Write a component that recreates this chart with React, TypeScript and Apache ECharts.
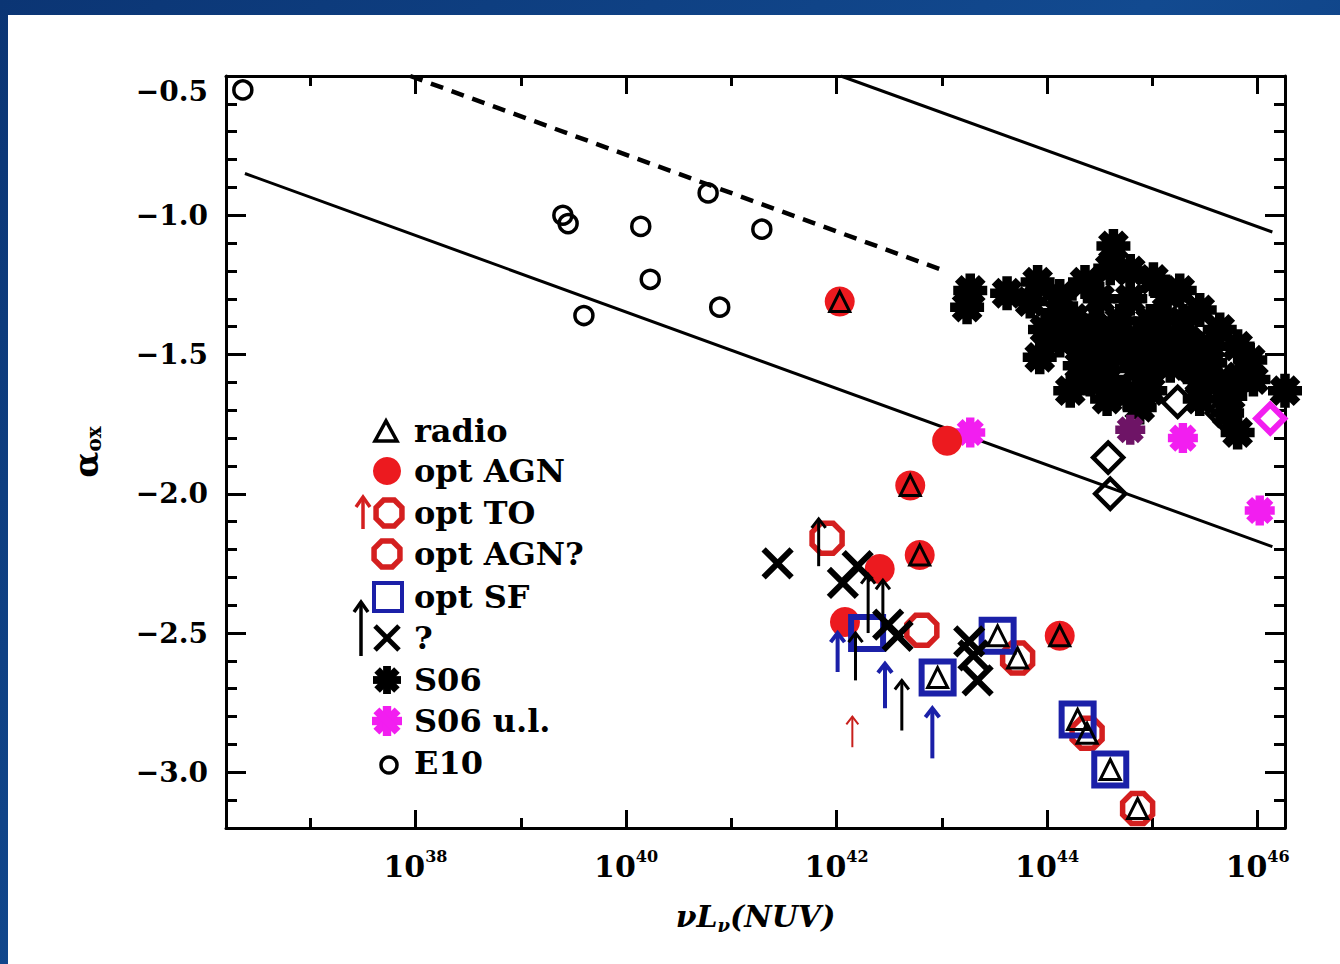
import React, { useEffect, useRef } from 'react';
import * as echarts from 'echarts';

// ---------- axes ----------
const xMin = 36.2;
const xMax = 46.26;
const yMin = -3.2;
const yMax = -0.5;
const xMajorTicks = [38, 40, 42, 44, 46];
const xMinorTicks = [37, 39, 41, 43, 45];
const yMajorTicks = [-3.0, -2.5, -2.0, -1.5, -1.0, -0.5];
const yMinorTicks = [-3.1, -2.9, -2.8, -2.7, -2.6, -2.4, -2.3, -2.2, -2.1, -1.9, -1.8, -1.7, -1.6,
  -1.4, -1.3, -1.2, -1.1, -0.9, -0.8, -0.7, -0.6];

// ---------- data (x = log10 nuL_nu(NUV), y = alpha_ox) ----------
const e10Points = [
  [36.36, -0.55], [39.40, -1.00], [39.45, -1.03], [40.14, -1.04], [40.78, -0.92],
  [41.29, -1.05], [40.23, -1.23], [39.60, -1.36], [40.89, -1.33],
];
const s06Points = [
  [43.27, -1.27], [43.24, -1.33], [43.62, -1.28], [43.91, -1.24], [43.84, -1.31],
  [44.12, -1.35], [44.63, -1.11], [44.60, -1.19], [43.93, -1.51], [45.01, -1.23],
  [45.14, -1.28], [44.29, -1.45], [44.44, -1.40], [44.69, -1.38], [44.86, -1.44],
  [44.57, -1.52], [44.76, -1.49], [45.01, -1.47], [45.29, -1.38], [45.33, -1.45],
  [45.64, -1.41], [45.81, -1.47], [45.93, -1.52], [45.83, -1.58], [45.55, -1.53],
  [45.17, -1.54], [44.95, -1.56], [44.57, -1.59], [44.57, -1.66], [44.76, -1.64],
  [44.31, -1.54], [44.88, -1.69], [45.74, -1.65], [45.81, -1.78], [45.71, -1.71],
  [45.96, -1.59], [46.26, -1.63], [44.41, -1.48], [44.50, -1.30], [44.12, -1.29],
  [45.26, -1.52], [45.45, -1.59], [45.55, -1.47], [44.98, -1.38], [44.36, -1.24],
  [43.98, -1.41], [44.12, -1.45], [44.41, -1.59], [44.79, -1.30], [45.07, -1.38],
  [44.98, -1.63], [45.45, -1.66], [44.22, -1.63], [45.45, -1.34], [44.79, -1.20],
  [45.26, -1.27], [44.66, -1.45], [45.12, -1.46], [45.38, -1.55], [44.85, -1.55],
  [44.25, -1.37], [45.62, -1.60],
];
const s06UpperLimits = [[43.27, -1.78], [45.29, -1.80], [46.02, -2.06]];
const s06UpperLimitsDark = [[44.79, -1.77]];
const diamondsBlack = [[44.58, -1.87], [44.60, -2.00], [45.24, -1.67], [45.66, -1.71]];
const diamondsMagenta = [[46.12, -1.73]];
const optAgn = [
  [42.03, -1.31], [42.70, -1.97], [42.79, -2.22], [44.12, -2.51], [43.05, -1.81],
  [42.08, -2.46], [42.41, -2.27],
];
const optAgnQ = [[42.81, -2.49], [43.72, -2.59], [44.38, -2.86], [44.86, -3.13]];
const optTo = [[41.91, -2.16]];
const optSf = [[42.29, -2.50], [42.96, -2.66], [43.53, -2.51], [44.29, -2.81], [44.60, -2.99]];
const radio = [
  [42.03, -1.31], [42.70, -1.97], [42.79, -2.22], [44.12, -2.51], [42.96, -2.66],
  [43.53, -2.51], [43.72, -2.59], [44.29, -2.81], [44.38, -2.86], [44.60, -2.99], [44.86, -3.13],
];
const unknown = [
  [41.44, -2.25], [42.06, -2.32], [42.20, -2.26], [42.49, -2.47], [42.58, -2.51],
  [43.26, -2.53], [43.30, -2.58], [43.34, -2.67],
];
// arrows: [x, alpha_ox at tail, alpha_ox at tip]
const arrowsBlue = [[42.01, -2.64, -2.50], [42.46, -2.77, -2.61], [42.91, -2.95, -2.77]];
const arrowsBlack = [
  [42.18, -2.67, -2.50], [42.30, -2.50, -2.29], [42.44, -2.50, -2.31], [41.83, -2.26, -2.09],
  [42.62, -2.85, -2.67],
];
const arrowsRed = [[42.15, -2.91, -2.80]];
// relations
const relationLow = [[36.38, -0.85], [46.14, -2.19]];
const relationHigh = [[42.04, -0.5], [46.14, -1.06]];
const relationDashed = [[37.95, -0.5], [43.03, -1.20]];

const legendLabels = ['radio', 'opt AGN', 'opt TO', 'opt AGN?', 'opt SF', '?', 'S06', 'S06 u.l.', 'E10'];

// ---------- styles ----------
const FONT = '"DejaVu Serif", serif';
const RED = '#ec1a1f';
const DRED = '#d41f1f';
const BLUE = '#1b20a8';
const MAG = '#f21ef0';

const ASTERISK =
  'path://M0 36L100 36L100 64L0 64Z M36 0L64 0L64 100L36 100Z M4.74 24.54L24.54 4.74L95.26 75.46L75.46 95.26Z M24.54 95.26L4.74 75.46L75.46 4.74L95.26 24.54Z';
const OCTAGON = 'path://M29.3 0L70.7 0L100 29.3L100 70.7L70.7 100L29.3 100L0 70.7L0 29.3Z';
const XMARK = 'path://M0 0L100 100M100 0L0 100';

const hollow = (color: string, w: number) => ({ color: 'rgba(0,0,0,0)', borderColor: color, borderWidth: w });

function scatter(name: string, data: number[][], symbol: string, size: number, itemStyle: any, z = 3) {
  return {
    name, type: 'scatter', data, symbol, symbolSize: size, itemStyle: { opacity: 1, ...itemStyle }, z,
    silent: true, clip: false, xAxisIndex: 0, yAxisIndex: 0,
  };
}

function arrowSeries(data: number[][], color: string, width: number, head: number) {
  return {
    type: 'custom',
    data,
    silent: true,
    z: 6,
    xAxisIndex: 0,
    yAxisIndex: 0,
    encode: { x: 0, y: [1, 2] },
    renderItem: (_p: any, api: any) => {
      const tail = api.coord([api.value(0), api.value(1)]);
      const tip = api.coord([api.value(0), api.value(2)]);
      return {
        type: 'group',
        children: [
          { type: 'line', shape: { x1: tail[0], y1: tail[1], x2: tip[0], y2: tip[1] }, style: { stroke: color, lineWidth: width } },
          {
            type: 'polyline',
            shape: { points: [[tip[0] - head, tip[1] + head * 1.3], [tip[0], tip[1]], [tip[0] + head, tip[1] + head * 1.3]] },
            style: { stroke: color, lineWidth: width, fill: 'none' },
          },
        ],
      };
    },
  };
}

function lineSeries(data: number[][], width: number, dashed: boolean) {
  return {
    type: 'line', data, symbol: 'none', silent: true, z: 1, xAxisIndex: 0, yAxisIndex: 0,
    lineStyle: { color: '#000', width, type: dashed ? [13, 9] : 'solid' },
  };
}

function octagonPoints(cx: number, cy: number, r: number) {
  const pts: number[][] = [];
  for (let i = 0; i < 8; i++) {
    const a = Math.PI / 8 + (i * Math.PI) / 4;
    pts.push([cx + r * Math.cos(a), cy + r * Math.sin(a)]);
  }
  return pts;
}

function asteriskIcon(cx: number, cy: number, size: number, color: string) {
  const h = size * 0.28;
  return {
    type: 'group', x: cx, y: cy,
    children: [0, 1, 2, 3].map((k) => ({
      type: 'rect', rotation: (k * Math.PI) / 4,
      shape: { x: -size / 2, y: -h / 2, width: size, height: h },
      style: { fill: color },
    })),
  };
}

function arrowIcon(x: number, y0: number, y1: number, color: string, w: number) {
  return [
    { type: 'line', shape: { x1: x, y1: y0, x2: x, y2: y1 }, style: { stroke: color, lineWidth: w } },
    { type: 'polyline', shape: { points: [[x - 7, y1 + 10], [x, y1], [x + 7, y1 + 10]] }, style: { stroke: color, lineWidth: w, fill: 'none' } },
  ];
}

function buildLegend() {
  const rows = [431, 471, 513, 554, 597, 638, 680, 721, 763];
  const tx = 414;
  const els: any[] = [];
  legendLabels.forEach((t, i) => {
    els.push({
      type: 'text', x: tx, y: rows[i],
      style: { text: t, fill: '#000', fontFamily: FONT, fontWeight: 'bold', fontSize: 32, verticalAlign: 'middle', align: 'left' },
    });
  });
  els.push({ type: 'polygon', shape: { points: [[375, rows[0] + 10], [397, rows[0] + 10], [386, rows[0] - 10]] }, style: { stroke: '#000', lineWidth: 3.5, fill: 'none' } });
  els.push({ type: 'circle', shape: { cx: 387, cy: rows[1], r: 14 }, style: { fill: RED } });
  els.push({ type: 'polygon', shape: { points: octagonPoints(389, rows[2], 14) }, style: { stroke: DRED, lineWidth: 5.5, fill: 'none' } });
  els.push(...arrowIcon(363, rows[2] + 16, rows[2] - 16, DRED, 3.5));
  els.push({ type: 'polygon', shape: { points: octagonPoints(387, rows[3], 14) }, style: { stroke: DRED, lineWidth: 5.5, fill: 'none' } });
  els.push({ type: 'rect', shape: { x: 374, y: rows[4] - 14, width: 28, height: 28 }, style: { stroke: BLUE, lineWidth: 4, fill: 'none' } });
  els.push({ type: 'line', shape: { x1: 375, y1: rows[5] - 12, x2: 399, y2: rows[5] + 12 }, style: { stroke: '#000', lineWidth: 5 } });
  els.push({ type: 'line', shape: { x1: 399, y1: rows[5] - 12, x2: 375, y2: rows[5] + 12 }, style: { stroke: '#000', lineWidth: 5 } });
  els.push(...arrowIcon(361, rows[5] + 18, rows[5] - 36, '#000', 3.5));
  els.push(asteriskIcon(387, rows[6], 28, '#000'));
  els.push(asteriskIcon(387, rows[7], 30, MAG));
  els.push({ type: 'circle', shape: { cx: 389, cy: rows[8] + 2, r: 8 }, style: { stroke: '#000', lineWidth: 3.5, fill: 'none' } });
  return els.map((e) => ({ ...e, z: 50 }));
}

const lbl = (v: number) => v.toFixed(1).replace('-', '\u2212');

function xAxisDef(position: 'top' | 'bottom', major: boolean, labels: boolean) {
  return {
    type: 'value', min: xMin, max: xMax, position, gridIndex: 0,
    splitLine: { show: false },
    axisLine: { show: major, onZero: false, lineStyle: { color: '#000', width: 3 } },
    axisTick: {
      show: true, inside: true, length: major ? 18 : 10,
      customValues: major ? xMajorTicks : xMinorTicks,
      lineStyle: { color: '#000', width: 3 },
    },
    axisLabel: labels
      ? {
          show: true, customValues: xMajorTicks, margin: 20,
          formatter: (v: number) => `{b|10}{s|${v}}`,
          rich: {
            b: { fontFamily: FONT, fontWeight: 'bold', fontSize: 30, lineHeight: 36, color: '#000' },
            s: { fontFamily: FONT, fontWeight: 'bold', fontSize: 16, lineHeight: 14, verticalAlign: 'top', color: '#000' },
          },
        }
      : { show: false },
    ...(labels
      ? {
          name: '{i|\u03bdL}{sub|\u03bd}{i|(NUV)}',
          nameLocation: 'middle',
          nameGap: 70,
          nameTextStyle: {
            rich: {
              i: { fontFamily: FONT, fontStyle: 'italic', fontWeight: 'bold', fontSize: 30, lineHeight: 36, color: '#000' },
              sub: { fontFamily: FONT, fontStyle: 'italic', fontWeight: 'bold', fontSize: 18, lineHeight: 18, verticalAlign: 'bottom', color: '#000' },
            },
          },
        }
      : {}),
  };
}

function yAxisDef(position: 'left' | 'right', major: boolean, labels: boolean) {
  return {
    type: 'value', min: yMin, max: yMax, position, gridIndex: 0,
    splitLine: { show: false },
    axisLine: { show: major, onZero: false, lineStyle: { color: '#000', width: 3 } },
    axisTick: {
      show: true, inside: true, length: major ? 20 : 11,
      customValues: major ? yMajorTicks : yMinorTicks,
      lineStyle: { color: '#000', width: 3 },
    },
    axisLabel: labels
      ? {
          show: true, customValues: yMajorTicks, margin: 18,
          formatter: (v: number) => (Math.abs(v - yMax) < 1e-9 ? `{t|${lbl(v)}}` : `{n|${lbl(v)}}`),
          rich: {
            n: { fontFamily: FONT, fontWeight: 'bold', fontSize: 28, color: '#000' },
            t: { fontFamily: FONT, fontWeight: 'bold', fontSize: 28, color: '#000', padding: [30, 0, 0, 0] },
          },
        }
      : { show: false },
    ...(labels
      ? {
          name: '{a|\u03b1}{s|ox}',
          nameLocation: 'middle',
          nameRotate: 90,
          nameGap: 122,
          nameTextStyle: {
            rich: {
              a: { fontFamily: FONT, fontWeight: 'bold', fontSize: 34, lineHeight: 36, color: '#000' },
              s: { fontFamily: FONT, fontWeight: 'bold', fontSize: 20, lineHeight: 20, verticalAlign: 'bottom', color: '#000' },
            },
          },
        }
      : {}),
  };
}

const option: any = {
  animation: false,
  backgroundColor: 'transparent',
  grid: { left: 226, right: 55, top: 76, bottom: 136, containLabel: false },
  xAxis: [xAxisDef('bottom', true, true), xAxisDef('bottom', false, false), xAxisDef('top', true, false), xAxisDef('top', false, false)],
  yAxis: [yAxisDef('left', true, true), yAxisDef('left', false, false), yAxisDef('right', true, false), yAxisDef('right', false, false)],
  graphic: { elements: buildLegend() },
  series: [
    lineSeries(relationLow, 3, false),
    lineSeries(relationHigh, 3, false),
    lineSeries(relationDashed, 4.5, true),
    scatter('diamonds', diamondsBlack, 'diamond', 30, hollow('#000', 4.5), 2),
    scatter('S06', s06Points, ASTERISK, 34, { color: '#000' }, 3),
    scatter('diamonds m', diamondsMagenta, 'diamond', 28, hollow(MAG, 6), 3),
    scatter('S06 u.l.', s06UpperLimits, ASTERISK, 30, { color: MAG }, 3),
    scatter('S06 u.l. dark', s06UpperLimitsDark, ASTERISK, 30, { color: '#6e1466' }, 3),
    scatter('E10', e10Points, 'circle', 18, hollow('#000', 3.5), 3),
    scatter('opt AGN', optAgn, 'circle', 30, { color: RED }, 3),
    scatter('opt AGN?', optAgnQ, OCTAGON, 30, hollow(DRED, 5.5), 4),
    scatter('opt TO', optTo, OCTAGON, 30, hollow(DRED, 5.5), 4),
    scatter('opt SF', optSf, 'rect', 32, hollow(BLUE, 6), 4),
    scatter('radio', radio, 'triangle', 20, hollow('#000', 3), 5),
    scatter('?', unknown, XMARK, 28, { color: '#000', borderColor: '#000', borderWidth: 6 }, 5),
    arrowSeries(arrowsBlue, BLUE, 4, 7),
    arrowSeries(arrowsBlack, '#000', 3, 7),
    arrowSeries(arrowsRed, '#c8201c', 2, 6),
  ],
};

export default function App() {
  const ref = useRef<HTMLDivElement>(null);
  useEffect(() => {
    if (!ref.current) return;
    const chart = echarts.init(ref.current, null, { renderer: 'svg' });
    chart.setOption(option);
    return () => chart.dispose();
  }, []);
  return (
    <div style={{ position: 'fixed', left: 0, top: 0, width: 1340, height: 964, background: 'linear-gradient(135deg, #0b3574 0%, #124a90 50%, #0b3574 100%)' }}>
      <div style={{ position: 'absolute', left: 8, top: 15, right: 0, bottom: 0, background: '#fff' }} />
      <div ref={ref} style={{ position: 'absolute', left: 0, top: 0, width: 1340, height: 964 }} />
    </div>
  );
}
